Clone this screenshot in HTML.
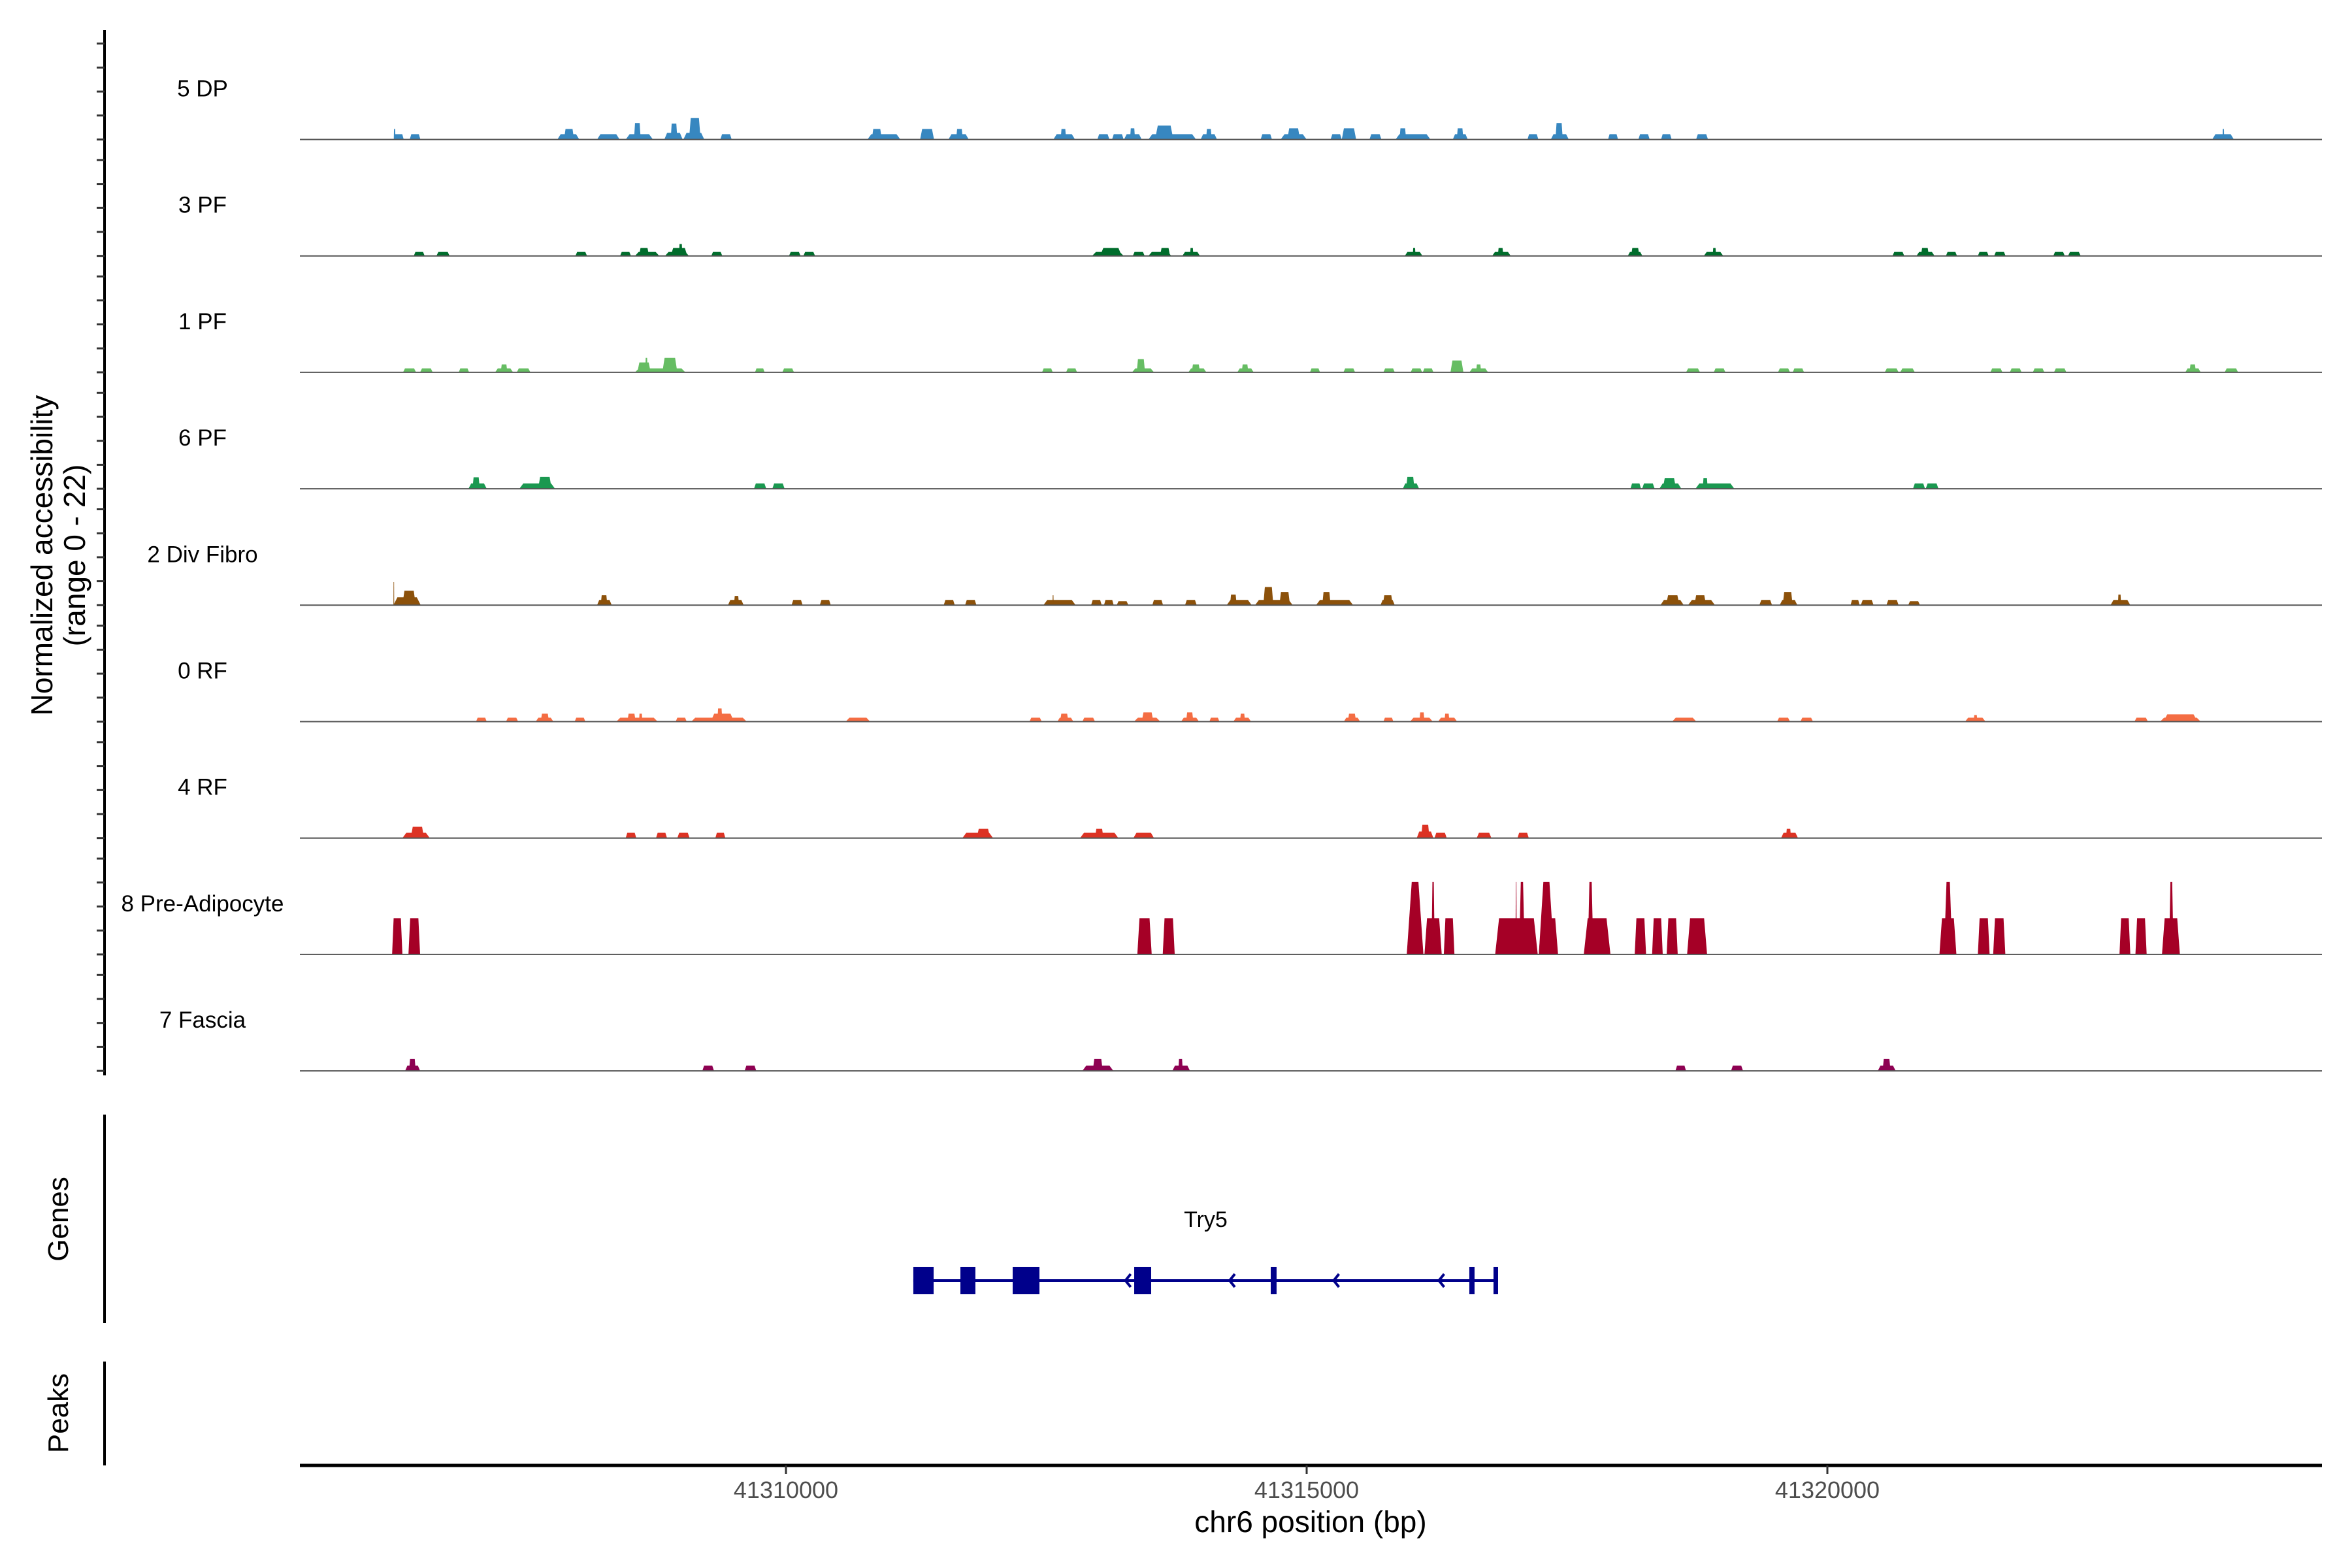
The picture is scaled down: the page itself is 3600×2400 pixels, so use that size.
<!DOCTYPE html>
<html><head><meta charset="utf-8"><style>
html,body{margin:0;padding:0;background:#fff;}
svg{display:block;}
text{font-family:"Liberation Sans",Arial,sans-serif;}
</style></head><body>
<svg id="chart" width="3600" height="2400" viewBox="0 0 3600 2400" xmlns="http://www.w3.org/2000/svg">
<g id="axes"></g>
<g id="tracks"></g>
<g id="genes"></g>
<text x="0" y="0" transform="translate(80,850) rotate(-90)" text-anchor="middle" font-size="46" fill="#000">Normalized accessibility</text>
<text x="0" y="0" transform="translate(130,850) rotate(-90)" text-anchor="middle" font-size="46" fill="#000">(range 0 - 22)</text>
<text x="0" y="0" transform="translate(104,1866) rotate(-90)" text-anchor="middle" font-size="44" fill="#000">Genes</text>
<text x="0" y="0" transform="translate(104,2163) rotate(-90)" text-anchor="middle" font-size="44" fill="#000">Peaks</text>
<text x="2006" y="2345" text-anchor="middle" font-size="46" fill="#000">chr6 position (bp)</text>
</svg>
<script>
const chromOffset = 41305000;
const trackNames = ["5 DP","3 PF","1 PF","6 PF","2 Div Fibro","0 RF","4 RF","8 Pre-Adipocyte","7 Fascia"];
const trackColors = ["#3787c0","#006d2c","#66bd63","#1a9850","#8c510a","#f46d43","#dc3324","#a50026","#8e0152"];
const xTicks = [41310000,41315000,41320000];
const xTickLabels = ["41310000","41315000","41320000"];
const yMax = 22;

const dpStarts = [1234,1234,1387,2805,2869,3186,3461,3541,3832,3893,4015,4069,4370,5782,5824,6288,6560,6634,7568,7638,7990,8131,8246,8304,8480,8544,8982,9034,9558,9750,9814,10230,10337,10603,10853,10891,11403,11441,12120,12344,12389,12894,13185,13403,13739,18695,18795];
const dpEnds   = [1330,1250,1490,3016,2965,3403,3723,3605,4008,3957,4216,4181,4479,6099,5920,6422,6755,6698,7776,7690,8106,8243,8416,8352,8938,8720,9139,9088,9667,10000,9936,10337,10475,10718,11189,10955,11547,11505,12225,12517,12459,12990,13294,13505,13854,18904,18810];
const dpValues = [1.6,3.2,1.6,1.6,3.2,1.6,1.6,5,2,4.8,2,6.5,1.6,1.6,3.2,3.2,1.6,3.2,1.6,3.2,1.6,1.6,1.6,3.4,1.6,4.2,1.6,3.2,1.6,1.6,3.4,1.6,3.4,1.6,1.6,3.4,1.6,3.4,1.6,1.6,5,1.6,1.6,1.6,1.6,1.6,3.2];

const pf3Starts = [1426,1643,2978,3407,3550,3589,3838,3893,3973,4283,5029,5167,7939,8016,8330,8480,8592,8806,8880,10942,11019,11781,11835,13083,13115,13813,13899,15625,15855,15898,16138,16445,16601,17169,17311];
const pf3Ends   = [1531,1771,3090,3512,3784,3685,4069,4053,4005,4389,5141,5280,8243,8224,8445,8701,8688,8976,8912,11112,11045,11960,11889,13224,13195,14001,13931,15739,16030,15975,16245,16549,16712,17280,17433];
const pf3Values = [1.2,1.2,1.2,1.2,1.2,2.4,1.2,2.4,3.6,1.2,1.2,1.2,1.2,2.4,1.2,1.2,2.4,1.2,2.4,1.2,2.4,1.2,2.4,1.2,2.4,1.2,2.4,1.2,1.2,2.4,1.2,1.2,1.2,1.2,1.2];

const pf1Starts = [1323,1487,1858,2207,2261,2415,3550,3573,3650,3813,4703,4965,7459,7690,8323,8368,8864,8896,9334,9376,10032,10353,10737,10999,11115,11381,11563,11627,13643,13909,14526,14667,15551,15699,16565,16752,16973,17176,18437,18477,18815];
const pf1Ends   = [1448,1608,1957,2380,2325,2546,4034,3701,3670,3957,4795,5077,7562,7795,8534,8448,9037,8976,9491,9440,10128,10465,10846,11109,11217,11505,11742,11675,13777,14021,14641,14776,15684,15840,16681,16865,17083,17295,18585,18539,18944];
const pf1Values = [1.2,1.2,1.2,1.2,2.4,1.2,1.2,3,4.4,4.4,1.2,1.2,1.2,1.2,1.2,4,1.2,2.4,1.2,2.4,1.2,1.2,1.2,1.2,1.2,3.6,1.2,2.4,1.2,1.2,1.2,1.2,1.2,1.2,1.2,1.2,1.2,1.2,1.2,2.4,1.2];

const pf6Starts = [1951,1990,2440,2620,4693,4869,10923,10955,13109,13221,13387,13419,13733,13803,15822,15944];
const pf6Ends   = [2127,2060,2783,2750,4811,4987,11080,11035,13211,13342,13598,13547,14107,13851,15938,16067];
const pf6Values = [1.6,3.5,1.6,3.6,1.6,1.6,1.6,3.6,1.6,1.6,1.6,3.2,1.6,3.2,1.6,1.6];

const divStarts = [1231,1231,1317,3186,3221,4443,4501,5054,5325,6515,6720,7472,7560,7930,8054,8176,8518,8832,9232,9264,9504,9584,9738,10090,10150,10709,10731,13397,13451,13662,13723,14347,14542,14571,15223,15321,15567,15776,17719,17790];
const divEnds   = [1493,1238,1445,3327,3285,4594,4549,5160,5430,6621,6829,7782,7570,8032,8147,8288,8621,8944,9472,9328,9866,9680,9840,10446,10230,10846,10827,13621,13579,13921,13835,14469,14712,14667,15309,15444,15684,15889,17909,17820];
const divValues = [2.4,7,4.4,1.6,3,1.6,2.8,1.6,1.6,1.6,1.6,1.6,3,1.6,1.6,1.2,1.6,1.6,1.6,3.2,1.6,5.5,4,1.6,4,1.6,3,1.6,3,1.6,3,1.6,1.6,4,1.6,1.6,1.6,1.2,1.6,3.2];

const rf0Starts = [2024,2312,2597,2645,2971,3371,3477,3589,3941,4091,4277,4341,5574,7338,7606,7632,7846,8342,8416,8794,8842,9066,9296,9360,10357,10395,10737,10993,11083,11262,11323,13509,14517,14741,16322,16405,17949,18195,18226];
const rf0Ends   = [2127,2428,2767,2725,3074,3768,3557,3621,4047,4623,4501,4389,5808,7456,7760,7712,7968,8595,8528,8966,8912,9162,9466,9408,10513,10475,10833,11211,11131,11445,11371,13742,14641,14862,16519,16440,18078,18585,18554];
const rf0Values = [1.2,1.2,1.2,2.4,1.2,1.2,2.4,2.4,1.2,1.2,2.4,4,1.2,1.2,1.2,2.4,1.2,1.2,2.8,1.2,2.8,1.2,1.2,2.4,1.2,2.4,1.2,1.2,2.8,1.2,2.4,1.2,1.2,1.2,1.2,2,1.2,1.2,2.2];

const rf4Starts = [1317,1397,3461,3752,3957,4322,6694,6832,7824,7968,8336,11057,11099,11227,11633,12024,14555,14603];
const rf4Ends   = [1580,1525,3563,3858,4075,4418,6989,6960,8192,8048,8534,11217,11179,11345,11774,12133,14718,14651];
const rf4Values = [1.6,3.4,1.6,1.6,1.6,1.6,1.6,2.8,1.6,2.8,1.6,2,4,1.6,1.6,1.6,1.6,2.8];

const preStarts = [1218,1375,8374,8618,10961,11131,11198,11317,11810,12005,12040,12229,12229,12661,12699,13150,13317,13457,13653,16076,16120,16445,16592,17805,17958,18213,18281];
const preEnds   = [1317,1487,8512,8733,11121,11297,11230,11419,12219,12017,12094,12414,12375,12917,12753,13259,13419,13563,13845,16239,16200,16558,16709,17909,18066,18385,18324];
const preValues = [11,11,11,11,22,11,22,11,11,22,22,11,22,11,22,11,11,11,11,11,22,11,11,11,11,11,22];

const fasStarts = [1343,1381,4197,4603,7846,7946,8710,8768,13541,14075,15484,15530];
const fasEnds   = [1487,1445,4309,4715,8144,8042,8880,8810,13643,14190,15656,15607];
const fasValues = [1.6,3.6,1.6,1.6,1.6,3.6,1.6,3.6,1.6,1.6,1.6,3.6];

const trackStarts = [dpStarts,pf3Starts,pf1Starts,pf6Starts,divStarts,rf0Starts,rf4Starts,preStarts,fasStarts];
const trackEnds = [dpEnds,pf3Ends,pf1Ends,pf6Ends,divEnds,rf0Ends,rf4Ends,preEnds,fasEnds];
const trackValues = [dpValues,pf3Values,pf1Values,pf6Values,divValues,rf0Values,rf4Values,preValues,fasValues];

const exonStarts = [41311223,41311675,41312177,41313344,41314655,41316562,41316794];
const exonEnds   = [41311418,41311819,41312434,41313507,41314711,41316612,41316838];
const geneStart = 41311223, geneEnd = 41316838;
const arrowPositions = [41313260,41314260,41315260,41316270];
const geneName = "Try5";

const NS = "http://www.w3.org/2000/svg";
const plotLeft = 459, plotRight = 3554;
const firstBaseline = 213.5, trackPitch = 178.2, trackMaxPx = 111;
function xScale(bp){ return 2000 + (bp - 41315000) * 0.1594; }
function yScale(v, base){ return base - v / yMax * trackMaxPx; }
function mk(tag, attrs, parent){ const e=document.createElementNS(NS,tag); for(const k in attrs) e.setAttribute(k,attrs[k]); parent.appendChild(e); return e; }

const axes = document.getElementById('axes');
const tracksG = document.getElementById('tracks');
const genesG = document.getElementById('genes');

let el = mk('line',{x1:160,y1:46,x2:160,y2:1646,stroke:'#000','stroke-width':4},axes);


for(let i=0;i<trackNames.length;i++){
  const base = firstBaseline + i*trackPitch;
  for(let k=0;k<5;k++){
    const y = base - k*36.7;
    const t = mk('line',{x1:148,y1:y,x2:160,y2:y,stroke:'#333','stroke-width':3},axes);
    
    
  }
}
el = mk('line',{x1:160,y1:1706,x2:160,y2:2025,stroke:'#000','stroke-width':4},axes);


el = mk('line',{x1:160,y1:2084,x2:160,y2:2243,stroke:'#000','stroke-width':4},axes);


el = mk('line',{x1:plotLeft,y1:2243,x2:plotRight,y2:2243,stroke:'#000','stroke-width':5},axes);


for(let i=0;i<xTicks.length;i++){
  const x = xScale(xTicks[i]);
  const t = mk('line',{x1:x,y1:2243,x2:x,y2:2256,stroke:'#333','stroke-width':3},axes);
  
  
  const l = mk('text',{x:x,y:2293,'text-anchor':'middle','font-size':36,fill:'#4d4d4d'},axes);
  l.textContent = xTickLabels[i];
  
  
}

for(let i=0;i<trackNames.length;i++){
  const base = firstBaseline + i*trackPitch;
  const g = mk('g',{},tracksG);
  
  
  const lab = mk('text',{x:310,y:base-66,'text-anchor':'middle','font-size':35,fill:'#000'},g);
  lab.textContent = trackNames[i];
  
  
  const S=trackStarts[i], E=trackEnds[i], V=trackValues[i];
  for(let j=0;j<S.length;j++){
    const x0 = xScale(chromOffset+S[j]), x1 = xScale(chromOffset+E[j]);
    const w = x1-x0;
    const r = Math.min(w*(V[j]>=20?0.3:0.15), V[j]>=20?30:6);
    const y = yScale(V[j], base);
    const p = mk('polygon',{points:`${x0},${base} ${x0+r},${y} ${x1-r},${y} ${x1},${base}`,fill:trackColors[i]},g);
    
    
  }
  const bl = mk('line',{x1:plotLeft,y1:base,x2:plotRight,y2:base,stroke:'#555','stroke-width':2},g);
  
  
}

const gy = 1960;
el = mk('line',{x1:xScale(geneStart),y1:gy,x2:xScale(geneEnd),y2:gy,stroke:'#00008b','stroke-width':4},genesG);


for(let j=0;j<exonStarts.length;j++){
  const x0=xScale(exonStarts[j]), x1=xScale(exonEnds[j]);
  const r = mk('rect',{x:x0,y:gy-21,width:Math.max(x1-x0,5),height:42,fill:'#00008b'},genesG);
  
  
}
for(let j=0;j<arrowPositions.length;j++){
  const x=xScale(arrowPositions[j]);
  const a = mk('polyline',{points:`${x+8},${gy-10} ${x},${gy} ${x+8},${gy+10}`,fill:'none',stroke:'#00008b','stroke-width':4},genesG);
  
  
}
el = mk('text',{x:xScale((geneStart+geneEnd)/2),y:1878,'text-anchor':'middle','font-size':34,fill:'#000'},genesG);
el.textContent = geneName;


</script>
</body></html>
